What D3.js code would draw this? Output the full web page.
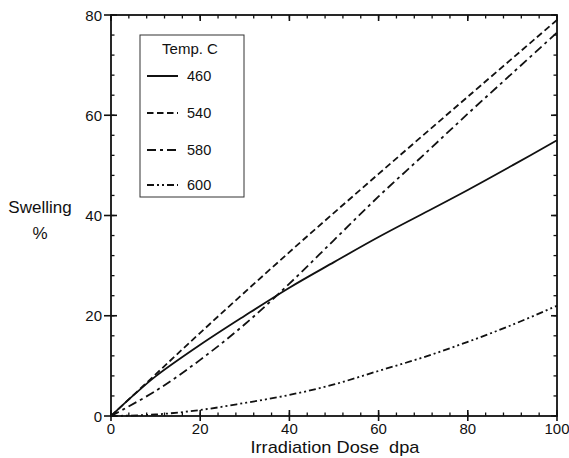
<!DOCTYPE html>
<html>
<head>
<meta charset="utf-8">
<script src="https://cdn.jsdelivr.net/npm/d3@7"></script>
<style>
  html, body { margin: 0; padding: 0; background: #fff; }
  text { font-family: "Liberation Sans", Arial, Helvetica, sans-serif; fill: #111; }
</style>
</head>
<body>
<svg id="chart" width="569" height="458"></svg>
<script>
// Swelling vs irradiation dose at four temperatures
const doses460 = [0, 5, 10, 20, 30, 40, 50, 60, 70, 80, 90, 100];
const swell460 = [0, 4.1, 7.9, 14.2, 20, 25.6, 30.7, 35.7, 40.4, 45.1, 50, 55];

const doses540 = [0, 10, 20, 40, 60, 80, 100];
const swell540 = [0, 8.3, 16.6, 32.7, 48.3, 63.7, 79];

const doses580 = [0, 10, 20, 30, 40, 50, 60, 70, 80, 90, 100];
const swell580 = [0, 5, 11.2, 18.3, 26.4, 35.1, 43.8, 52, 60.3, 68.4, 76.5];

const doses600 = [0, 10, 20, 30, 40, 50, 60, 70, 80, 90, 100];
const swell600 = [0, 0.3, 1.2, 2.6, 4.2, 6.3, 9, 11.7, 14.8, 18.2, 22];

const seriesNames = ["460", "540", "580", "600"];
const dashPatterns = [null, "6.5,3.5", "9,4,3,4", "7,3,2,3,2,3"];

const xTicks = [0, 20, 40, 60, 80, 100];
const yTicks = [0, 20, 40, 60, 80];
const xMinor = d3.range(0, 101, 4);
const yMinor = d3.range(0, 81, 4);

const svg = d3.select("#chart");
const pLeft = 111, pRight = 557, pTop = 15, pBottom = 416;

const x = d3.scaleLinear().domain([0, 100]).range([pLeft, pRight]);
const y = d3.scaleLinear().domain([0, 80]).range([pBottom, pTop]);

const g = svg.append("g");

// frame
g.append("rect")
  .attr("x", pLeft).attr("y", pTop)
  .attr("width", pRight - pLeft).attr("height", pBottom - pTop)
  .attr("fill", "none").attr("stroke", "#111").attr("stroke-width", 1.8);

// minor ticks on all four sides (inward)
const minorLen = 3.5, majorIn = 6, majorOut = 5;
xMinor.forEach(v => {
  g.append("line").attr("x1", x(v)).attr("x2", x(v)).attr("y1", pBottom).attr("y2", pBottom - minorLen)
    .attr("stroke", "#111").attr("stroke-width", 1.3);
  g.append("line").attr("x1", x(v)).attr("x2", x(v)).attr("y1", pTop).attr("y2", pTop + minorLen)
    .attr("stroke", "#111").attr("stroke-width", 1.3);
});
yMinor.forEach(v => {
  g.append("line").attr("x1", pLeft).attr("x2", pLeft + minorLen).attr("y1", y(v)).attr("y2", y(v))
    .attr("stroke", "#111").attr("stroke-width", 1.3);
  g.append("line").attr("x1", pRight).attr("x2", pRight - minorLen).attr("y1", y(v)).attr("y2", y(v))
    .attr("stroke", "#111").attr("stroke-width", 1.3);
});

// major ticks: crossing bottom/left, inward on top/right
xTicks.forEach(v => {
  g.append("line").attr("x1", x(v)).attr("x2", x(v)).attr("y1", pBottom + majorOut).attr("y2", pBottom - majorIn)
    .attr("stroke", "#111").attr("stroke-width", 1.6);
  g.append("line").attr("x1", x(v)).attr("x2", x(v)).attr("y1", pTop).attr("y2", pTop + majorIn)
    .attr("stroke", "#111").attr("stroke-width", 1.6);
});
yTicks.forEach(v => {
  g.append("line").attr("x1", pLeft - majorOut - 2).attr("x2", pLeft + majorIn).attr("y1", y(v)).attr("y2", y(v))
    .attr("stroke", "#111").attr("stroke-width", 1.6);
  g.append("line").attr("x1", pRight).attr("x2", pRight - majorIn).attr("y1", y(v)).attr("y2", y(v))
    .attr("stroke", "#111").attr("stroke-width", 1.6);
});

// tick labels
g.selectAll(".xl").data(xTicks).enter().append("text")
  .attr("x", d => x(d)).attr("y", 434)
  .attr("text-anchor", "middle").attr("font-size", 15).text(d => d);
g.selectAll(".yl").data(yTicks).enter().append("text")
  .attr("x", 102).attr("y", d => y(d) + 5.5)
  .attr("text-anchor", "end").attr("font-size", 15).text(d => d);

// axis titles
svg.append("text").attr("x", 335).attr("y", 453).attr("text-anchor", "middle")
  .attr("font-size", 17).attr("textLength", 169).attr("lengthAdjust", "spacingAndGlyphs")
  .style("white-space", "pre")
  .text("Irradiation Dose  dpa");
svg.append("text").attr("x", 40).attr("y", 213).attr("text-anchor", "middle")
  .attr("font-size", 17).text("Swelling");
svg.append("text").attr("x", 40).attr("y", 239).attr("text-anchor", "middle")
  .attr("font-size", 17).text("%");

// curves
const allSeries = [
  { xs: doses460, ys: swell460 },
  { xs: doses540, ys: swell540 },
  { xs: doses580, ys: swell580 },
  { xs: doses600, ys: swell600 }
];
const line = d3.line().x(d => x(d[0])).y(d => y(d[1])).curve(d3.curveCatmullRom.alpha(0.5));
allSeries.forEach((s, i) => {
  const pts = s.xs.map((d, k) => [d, s.ys[k]]);
  g.append("path").attr("d", line(pts))
    .attr("fill", "none").attr("stroke", "#111").attr("stroke-width", 1.8)
    .attr("stroke-dasharray", dashPatterns[i]);
});

// legend
const lg = svg.append("g");
lg.append("rect").attr("x", 140).attr("y", 35).attr("width", 104).attr("height", 162)
  .attr("fill", "#fff").attr("stroke", "#333").attr("stroke-width", 1);
lg.append("text").attr("x", 190).attr("y", 54).attr("text-anchor", "middle")
  .attr("font-size", 15).text("Temp. C");
const legendY = [76, 113, 150, 185];
seriesNames.forEach((n, i) => {
  lg.append("line").attr("x1", 147).attr("x2", 178).attr("y1", legendY[i]).attr("y2", legendY[i])
    .attr("stroke", "#111").attr("stroke-width", 2).attr("stroke-dasharray", dashPatterns[i]);
  lg.append("text").attr("x", 187).attr("y", legendY[i] + 5).attr("font-size", 14.5).text(n);
});
</script>
</body>
</html>
